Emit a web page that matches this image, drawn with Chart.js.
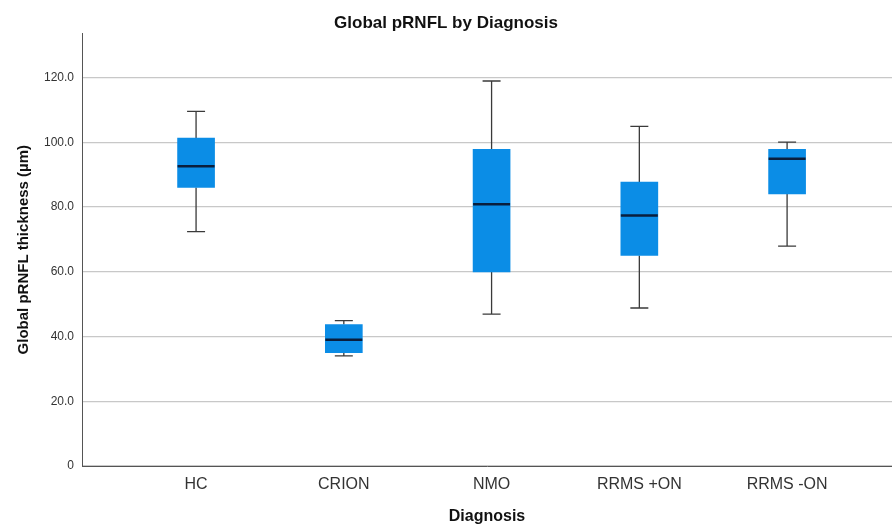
<!DOCTYPE html>
<html lang="en">
<head>
    <meta charset="UTF-8">
    <title>Global pRNFL by Diagnosis</title>
    <script src="https://cdn.jsdelivr.net/npm/chart.js"></script>
    <style>
        html, body { margin: 0; padding: 0; background: #fff; }
        #wrap { width: 892px; height: 526px; }
    </style>
</head>
<body>
    <div id="wrap"><canvas id="boxChart"></canvas></div>

    <script>
        // box plot values
        const categories = ["HC", "CRION", "NMO", "RRMS +ON", "RRMS -ON"];
        const whiskerLow = [72.4, 34.0, 46.9, 48.8, 67.9];
        const q1 = [86.0, 35.0, 59.9, 65.0, 84.0];
        const median = [92.6, 39.0, 80.8, 77.4, 94.9];
        const q3 = [101.3, 43.7, 97.8, 87.7, 97.8];
        const whiskerHigh = [109.5, 44.9, 118.9, 104.9, 100.0];
        const yTicks = [0, 20, 40, 60, 80, 100, 120];

        const boxColor = "#0b8de6";
        const font = "'Liberation Sans', Arial, sans-serif";

        // whiskers under the boxes, medians over them
        const boxPlot = {
            id: "boxPlot",
            beforeDatasetsDraw(chart) {
                const { ctx, scales: { x, y } } = chart;
                ctx.save();
                ctx.strokeStyle = "#3a3a3a";
                ctx.lineWidth = 1.3;
                categories.forEach((c, i) => {
                    const px = x.getPixelForValue(i);
                    const cap = 9;
                    ctx.beginPath();
                    ctx.moveTo(px, y.getPixelForValue(whiskerHigh[i]));
                    ctx.lineTo(px, y.getPixelForValue(q3[i]));
                    ctx.moveTo(px, y.getPixelForValue(q1[i]));
                    ctx.lineTo(px, y.getPixelForValue(whiskerLow[i]));
                    ctx.moveTo(px - cap, y.getPixelForValue(whiskerHigh[i]));
                    ctx.lineTo(px + cap, y.getPixelForValue(whiskerHigh[i]));
                    ctx.moveTo(px - cap, y.getPixelForValue(whiskerLow[i]));
                    ctx.lineTo(px + cap, y.getPixelForValue(whiskerLow[i]));
                    ctx.stroke();
                });
                ctx.restore();
            },
            afterDatasetsDraw(chart) {
                const { ctx, scales: { y } } = chart;
                const meta = chart.getDatasetMeta(0);
                ctx.save();
                ctx.strokeStyle = "#0a1e3c";
                ctx.lineWidth = 2.5;
                meta.data.forEach((bar, i) => {
                    const py = y.getPixelForValue(median[i]);
                    ctx.beginPath();
                    ctx.moveTo(bar.x - bar.width / 2, py);
                    ctx.lineTo(bar.x + bar.width / 2, py);
                    ctx.stroke();
                });
                ctx.restore();
            }
        };

        const ctx = document.getElementById("boxChart").getContext("2d");
        new Chart(ctx, {
            type: "bar",
            data: {
                datasets: [{
                    label: "Global pRNFL",
                    data: categories.map((c, i) => ({ x: i, y: [q1[i], q3[i]] })),
                    backgroundColor: boxColor,
                    borderWidth: 0,
                    borderSkipped: false,
                    barThickness: 37
                }]
            },
            options: {
                responsive: true,
                maintainAspectRatio: false,
                animation: false,
                layout: { padding: { left: 0, right: 0, top: 0, bottom: 0 } },
                plugins: {
                    legend: { display: false },
                    tooltip: { enabled: false },
                    title: {
                        display: true,
                        text: "Global pRNFL by Diagnosis",
                        color: "#111",
                        font: { family: font, size: 17, weight: "bold" },
                        padding: { top: 13, bottom: 0 }
                    }
                },
                scales: {
                    x: {
                        type: "linear",
                        bounds: "data",
                        offset: false,
                        min: -0.772,
                        max: 4.71,
                        afterBuildTicks: axis => {
                            axis.ticks = categories.map((c, i) => ({ value: i }));
                        },
                        afterDataLimits: axis => {
                            axis.min = -0.772;
                            axis.max = 4.71;
                        },
                        afterFit: axis => { axis.height = 60; },
                        grid: { display: false, drawTicks: false },
                        border: { display: true, color: "#555", width: 1 },
                        ticks: {
                            padding: 9,
                            color: "#333",
                            font: { family: font, size: 16 },
                            callback: v => categories[v]
                        },
                        title: {
                            display: true,
                            text: "Diagnosis",
                            color: "#111",
                            font: { family: font, size: 16, weight: "bold" },
                            padding: { top: 0, bottom: 0 }
                        }
                    },
                    y: {
                        min: 0,
                        max: 133.6,
                        afterBuildTicks: axis => {
                            axis.ticks = yTicks.map(v => ({ value: v }));
                        },
                        afterFit: axis => { axis.width = 82; },
                        grid: { color: "#c8c8c8", lineWidth: 1.2, drawTicks: false },
                        border: { display: true, color: "#555", width: 1 },
                        ticks: {
                            padding: 8,
                            color: "#333",
                            font: { family: font, size: 12 },
                            callback: v => v === 0 ? "0" : v.toFixed(1)
                        },
                        title: {
                            display: true,
                            text: "Global pRNFL thickness (µm)",
                            color: "#111",
                            font: { family: font, size: 15, weight: "bold" },
                            padding: { top: 15, bottom: 4 }
                        }
                    }
                }
            },
            plugins: [boxPlot]
        });
    </script>
</body>
</html>
